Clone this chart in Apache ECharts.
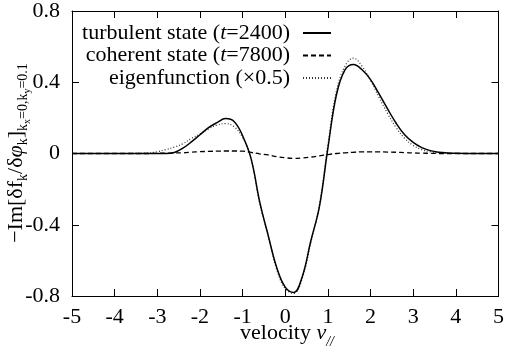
<!DOCTYPE html>
<html><head><meta charset="utf-8">
<script src="https://cdn.jsdelivr.net/npm/echarts@6/dist/echarts.min.js"></script>
<style>html,body{margin:0;padding:0;background:#fff}#c{width:507px;height:352px}</style>
</head><body><div id="c"></div>
<script>
const velocity = [-5,-4,-3.2,-3,-2.8,-2.6,-2.4,-2.2,-2,-1.8,-1.6,-1.4,-1.2,-1,-0.8,-0.6,-0.4,-0.2,0,0.2,0.4,0.6,0.8,1,1.2,1.4,1.6,1.8,2,2.2,2.4,2.6,2.8,3,3.2,3.4,3.6,3.8,4,4.5,5];
const turbulent = [0,0,0,0,0,0.006,0.03,0.065,0.105,0.145,0.173,0.196,0.18,0.10,-0.03,-0.27,-0.46,-0.64,-0.75,-0.78,-0.69,-0.49,-0.30,0.03,0.33,0.47,0.50,0.47,0.415,0.335,0.25,0.17,0.105,0.062,0.033,0.016,0.007,0.003,0.001,0,0];
const coherent = [0,0,0,0.001,0.002,0.003,0.004,0.007,0.010,0.012,0.013,0.014,0.014,0.013,0.006,-0.002,-0.008,-0.018,-0.024,-0.027,-0.025,-0.020,-0.013,-0.006,0,0.004,0.007,0.009,0.009,0.009,0.008,0.007,0.005,0.003,0.002,0.001,0,0,0,0,0];
const eigenfunction = [0,0,0.003,0.01,0.022,0.036,0.055,0.085,0.11,0.138,0.16,0.168,0.15,0.09,-0.03,-0.28,-0.46,-0.65,-0.76,-0.785,-0.70,-0.50,-0.29,0.05,0.35,0.49,0.535,0.49,0.41,0.315,0.225,0.145,0.085,0.045,0.022,0.010,0.004,0.001,0,0,0];
const seriesNames = ['turbulent state (t=2400)', 'coherent state (t=7800)', 'eigenfunction (\u00d70.5)'];
const legendRich = ['{n|turbulent state (}{i|t}{e|=2400)}', '{n|coherent state (}{i|t}{e|=7800)}', '{e|eigenfunction (\u00d70.5)}'];
const xTicks = [-5,-4,-3,-2,-1,0,1,2,3,4,5];
const yTicks = [-0.8,-0.4,0,0.4,0.8];

const FONT = '"Liberation Serif", "Times New Roman", Times, serif';
const chart = echarts.init(document.getElementById('c'), null, {renderer:'canvas'});
const pairs = arr => velocity.map((v,i)=>[v, arr[i]]);
const axisCommon = {
  type:'value', splitLine:{show:false},
  axisLine:{show:true, onZero:false, lineStyle:{color:'#000', width:1}},
  axisTick:{show:true, inside:true, length:7, lineStyle:{color:'#000', width:1}}
};
const txtRich = {
  n:{fontFamily:FONT, fontSize:22, color:'#000', lineHeight:22},
  i:{fontFamily:FONT, fontSize:22, fontStyle:'italic', color:'#000', lineHeight:22},
  e:{fontFamily:FONT, fontSize:22, color:'#000', lineHeight:22, padding:[0,8,0,0]}
};
const legendTops = [22, 44.5, 67];
const styles = [
  {color:'#000', width:1.5, type:'solid'},
  {color:'#000', width:1.3, type:[5,3]},
  {color:'#333', width:1.2, type:[1,2]}
];
const dataSets = [turbulent, coherent, eigenfunction];

chart.setOption({
  animation:false,
  backgroundColor:'#fff',
  grid:{left:72, right:4, top:4, bottom:56},
  xAxis:[
    Object.assign({}, axisCommon, {min:-5, max:5, interval:1, position:'bottom',
      axisLabel:{margin:10, color:'#000', fontFamily:FONT, fontSize:22,
        formatter: v => { const k = xTicks.indexOf(v); return k>=0 ? String(xTicks[k]) : ''; }}}),
    Object.assign({}, axisCommon, {min:-5, max:5, interval:1, position:'top', axisLabel:{show:false}})
  ],
  yAxis:[
    Object.assign({}, axisCommon, {min:-0.8, max:0.8, interval:0.4, position:'left',
      axisLabel:{margin:12, color:'#000', fontFamily:FONT, fontSize:22,
        formatter: v => { const k = yTicks.findIndex(t=>Math.abs(t-v)<1e-9); return k>=0 ? String(yTicks[k]) : ''; }}}),
    Object.assign({}, axisCommon, {min:-0.8, max:0.8, interval:0.4, position:'right', axisLabel:{show:false}})
  ],
  legend: seriesNames.map((n,i)=>({
    data:[n], orient:'vertical', right:175, top:legendTops[i], align:'right',
    itemWidth:28, itemHeight:10, padding:0, itemGap:0, selectedMode:false,
    itemStyle:{color:'rgba(0,0,0,0)', borderWidth:0, opacity:0},
    formatter: () => legendRich[i],
    textStyle:{fontFamily:FONT, fontSize:22, color:'#000', rich:txtRich}
  })),
  series: seriesNames.map((n,i)=>({
    name:n, type:'line', xAxisIndex:0, yAxisIndex:0, data:pairs(dataSets[i]),
    symbol:'none', showSymbol:false, smooth:0.4, lineStyle:styles[i], itemStyle:{color:styles[i].color}, z: 3-i
  })),
  graphic:[
    {type:'text', x:21, y:153, rotation:Math.PI/2,
     style:{text:'{m|\u2212Im[\u03b4f}{s|k}{m|/\u03b4}{mi|\u03c6}{s|k}{m|]}{s|k}{ss|x}{s|=0,k}{ss|y}{s|=0.1}',
       align:'center', verticalAlign:'middle', textAlign:'center', textVerticalAlign:'middle', fill:'#000',
       rich:{
         m:{fontFamily:FONT, fontSize:22, lineHeight:22, padding:[0,0,5,0], verticalAlign:'bottom', fill:'#000'},
         mi:{fontFamily:FONT, fontSize:22, fontStyle:'italic', lineHeight:22, padding:[0,0,5,0], verticalAlign:'bottom', fill:'#000'},
         s:{fontFamily:FONT, fontSize:14, lineHeight:14, padding:[0,0,2,0], verticalAlign:'bottom', fill:'#000'},
         ss:{fontFamily:FONT, fontSize:10, lineHeight:10, verticalAlign:'bottom', fill:'#000'}
       }}},
    {type:'text', x:287, y:338,
     style:{text:'{m|velocity }{mi|v}{s|//}',
       align:'center', verticalAlign:'middle', textAlign:'center', textVerticalAlign:'middle', fill:'#000',
       rich:{
         m:{fontFamily:FONT, fontSize:22, lineHeight:22, padding:[0,0,5,0], verticalAlign:'bottom', fill:'#000'},
         mi:{fontFamily:FONT, fontSize:22, fontStyle:'italic', lineHeight:22, padding:[0,0,5,0], verticalAlign:'bottom', fill:'#000'},
         s:{fontFamily:FONT, fontSize:14, fontStyle:'italic', lineHeight:14, verticalAlign:'bottom', fill:'#000'}
       }}}
  ]
});
</script></body></html>
